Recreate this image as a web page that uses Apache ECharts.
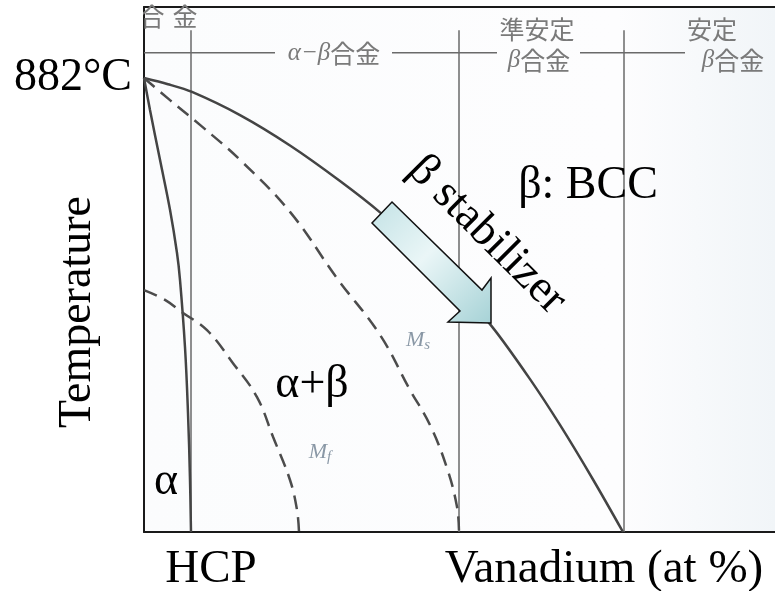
<!DOCTYPE html>
<html>
<head>
<meta charset="utf-8">
<script src="https://cdn.jsdelivr.net/npm/echarts@6/dist/echarts.min.js"></script>
<style>html,body{margin:0;padding:0;background:#fff}#c{width:775px;height:591px}</style>
</head>
<body>
<div id="c"></div>
<script>
// ---- data (x: vanadium, arbitrary at% scale; y: temperature °C) ----
var betaTransusX = [0, 2.4, 4.8, 9.6, 14.6, 19.6, 23.6, 29.6, 34.8, 38.6, 41.6, 44.9, 47.9];
var betaTransusY = [882, 870, 855, 810, 751, 682, 621, 515, 399, 297, 208, 102, 0];
var alphaSolvusX = [0, 0.6, 1.6, 2.6, 3.3, 3.6, 4.1, 4.4, 4.6, 4.7];
var alphaSolvusY = [882, 820, 723, 626, 542, 490, 359, 231, 101, 0];
var msX = [0, 2.6, 5.6, 9.6, 14.6, 19.3, 23.6, 26.6, 28.6, 30.3, 31.3, 31.5];
var msY = [882, 839, 791, 723, 622, 493, 383, 276, 208, 124, 49, 0];
var mfX = [0, 2.1, 3.8, 6.3, 8.9, 11.3, 12.9, 14.6, 15.3, 15.5];
var mfY = [470, 451, 427, 392, 328, 262, 185, 101, 43, 0];
var alloyBoundaries = [4.7, 31.5, 48.0];   // vertical class boundaries
var boundaryTop = 975;
var headerLineT = 931;
var headerSegments = [[0, 13.1], [24.8, 35.3], [43.6, 54.1]];
var yTicks = [882];
var yTickLabels = ['882°C'];

function zip(xs, ys) { return xs.map(function (x, i) { return [x, ys[i]]; }); }

var chart = echarts.init(document.getElementById('c'), null, {renderer: 'canvas'});
var serif = '"Liberation Serif", "Times New Roman", serif';
var jp = '"Noto Sans CJK JP", sans-serif';
var lineCol = '#444444';
var thinCol = '#6a6a6a';
var hdrCol = '#7a7a7a';

var series = [];
alloyBoundaries.forEach(function (b) {
  series.push({type: 'line', data: [[b, 0], [b, boundaryTop]], symbol: 'none', silent: true,
    lineStyle: {color: thinCol, width: 1.5}, z: 2});
});
headerSegments.forEach(function (s) {
  series.push({type: 'line', data: [[s[0], headerLineT], [s[1], headerLineT]], symbol: 'none', silent: true,
    lineStyle: {color: thinCol, width: 1.5}, z: 2});
});
series.push({type: 'line', name: 'beta transus', data: zip(betaTransusX, betaTransusY), smooth: 0.3, symbol: 'none',
  lineStyle: {color: lineCol, width: 2.5}, z: 3});
series.push({type: 'line', name: 'alpha', data: zip(alphaSolvusX, alphaSolvusY), smooth: 0.4, symbol: 'none',
  lineStyle: {color: lineCol, width: 2.5}, z: 3});
series.push({type: 'line', name: 'Ms', data: zip(msX, msY), smooth: 0.4, symbol: 'none',
  lineStyle: {color: '#4c4c4c', width: 2.5, type: [14, 8]}, z: 3});
series.push({type: 'line', name: 'Mf', data: zip(mfX, mfY), smooth: 0.4, symbol: 'none',
  lineStyle: {color: '#4c4c4c', width: 2.5, type: [14, 8]}, z: 3});

var axisLineStyle = {show: true, lineStyle: {color: '#1a1a1a', width: 2}};
var option = {
  backgroundColor: '#ffffff',
  animation: false,
  grid: {left: 144, top: 7, bottom: 59, right: 0, show: true, borderWidth: 0,
    backgroundColor: {type: 'linear', x: 0, y: 0, x2: 1, y2: 0, colorStops: [
      {offset: 0, color: '#fbfcfd'}, {offset: 0.75, color: '#fdfdfe'}, {offset: 1, color: '#f1f5f8'}]}},
  xAxis: [
    {type: 'value', min: 0, max: 63.1, position: 'bottom', axisLine: axisLineStyle, axisTick: {show: false},
      axisLabel: {show: false}, splitLine: {show: false}},
    {type: 'value', min: 0, max: 63.1, position: 'top', axisLine: axisLineStyle, axisTick: {show: false},
      axisLabel: {show: false}, splitLine: {show: false}}
  ],
  yAxis: {type: 'value', min: 0, max: 1020, axisLine: axisLineStyle, axisTick: {show: false}, splitLine: {show: false},
    axisLabel: {customValues: yTicks, formatter: function (v) { return yTickLabels[yTicks.indexOf(v)] || ''; },
      fontSize: 46, fontFamily: serif, color: '#000', margin: 12}},
  series: series,
  graphic: [
    // top-left label, clipped by the frame
    {type: 'text', z: 10, style: {text: '合', x: 152, y: 16, align: 'center', verticalAlign: 'middle',
      fontSize: 25, fontFamily: jp, fill: hdrCol}},
    {type: 'text', z: 10, style: {text: '金', x: 185, y: 16, align: 'center', verticalAlign: 'middle',
      fontSize: 25, fontFamily: jp, fill: hdrCol}},
    {type: 'rect', z: 11, shape: {x: 0, y: 0, width: 143, height: 40}, style: {fill: '#fff'}},
    {type: 'text', z: 10, style: {text: '{i|α−β}合金', x: 334, y: 53, align: 'center', verticalAlign: 'middle',
      fontSize: 25, fontFamily: jp, fill: hdrCol,
      rich: {i: {fontSize: 25, fontFamily: serif, fontStyle: 'italic', fill: hdrCol}}}},
    {type: 'text', z: 10, style: {text: '準安定', x: 537, y: 29, align: 'center', verticalAlign: 'middle',
      fontSize: 25, fontFamily: jp, fill: hdrCol}},
    {type: 'text', z: 10, style: {text: '{i|β}合金', x: 539, y: 60, align: 'center', verticalAlign: 'middle',
      fontSize: 25, fontFamily: jp, fill: hdrCol,
      rich: {i: {fontSize: 25, fontFamily: serif, fontStyle: 'italic', fill: hdrCol}}}},
    {type: 'text', z: 10, style: {text: '安定', x: 712, y: 29, align: 'center', verticalAlign: 'middle',
      fontSize: 25, fontFamily: jp, fill: hdrCol}},
    {type: 'text', z: 10, style: {text: '{i|β}合金', x: 733, y: 60, align: 'center', verticalAlign: 'middle',
      fontSize: 25, fontFamily: jp, fill: hdrCol,
      rich: {i: {fontSize: 25, fontFamily: serif, fontStyle: 'italic', fill: hdrCol}}}},
    // axis titles
    {type: 'text', z: 10, rotation: Math.PI / 2, x: 78, y: 312, style: {text: 'Temperature', x: 0, y: 0,
      align: 'center', verticalAlign: 'middle', fontSize: 46, fontFamily: serif, fill: '#000'}},
    {type: 'text', z: 10, style: {text: 'HCP', x: 211, y: 570, align: 'center', verticalAlign: 'middle',
      fontSize: 47, fontFamily: serif, fill: '#000'}},
    {type: 'text', z: 10, style: {text: 'Vanadium (at %)', x: 604, y: 570, align: 'center', verticalAlign: 'middle',
      fontSize: 47, fontFamily: serif, fill: '#000'}},
    // region labels
    {type: 'text', z: 10, style: {text: 'β: BCC', x: 588, y: 186, align: 'center', verticalAlign: 'middle',
      fontSize: 46, fontFamily: serif, fill: '#000'}},
    {type: 'text', z: 10, style: {text: 'α+β', x: 312, y: 385, align: 'center', verticalAlign: 'middle',
      fontSize: 46, fontFamily: serif, fill: '#000'}},
    {type: 'text', z: 10, style: {text: 'α', x: 166, y: 482, align: 'center', verticalAlign: 'middle',
      fontSize: 46, fontFamily: serif, fill: '#000'}},
    {type: 'text', z: 10, style: {text: '{m|M}{s|s}', x: 418, y: 340, align: 'center', verticalAlign: 'middle',
      rich: {m: {fontSize: 22, fontFamily: serif, fontStyle: 'italic', fill: '#8a98a6'},
             s: {fontSize: 15, fontFamily: serif, fontStyle: 'italic', fill: '#8a98a6', padding: [10, 0, 0, 0]}}}},
    {type: 'text', z: 10, style: {text: '{m|M}{s|f}', x: 320, y: 452, align: 'center', verticalAlign: 'middle',
      rich: {m: {fontSize: 22, fontFamily: serif, fontStyle: 'italic', fill: '#8a98a6'},
             s: {fontSize: 15, fontFamily: serif, fontStyle: 'italic', fill: '#8a98a6', padding: [10, 0, 0, 0]}}}},
    // arrow
    {type: 'polygon', z: 8, shape: {points: [[392, 202], [482, 290], [491, 278], [491, 323], [448, 322], [460, 311], [372, 223]]},
      style: {stroke: '#111', lineWidth: 1.5,
        fill: {type: 'linear', x: 0, y: 0, x2: 1, y2: 1, colorStops: [
          {offset: 0, color: '#c3e2e5'}, {offset: 0.45, color: '#eaf6f7'}, {offset: 1, color: '#a6d2d6'}]}}},
    {type: 'text', z: 10, rotation: -Math.PI / 4, x: 487, y: 235, style: {text: 'β stabilizer', x: 0, y: 0,
      align: 'center', verticalAlign: 'middle', fontSize: 46, fontFamily: serif, fill: '#000'}}
  ]
};
chart.setOption(option);
</script>
</body>
</html>
